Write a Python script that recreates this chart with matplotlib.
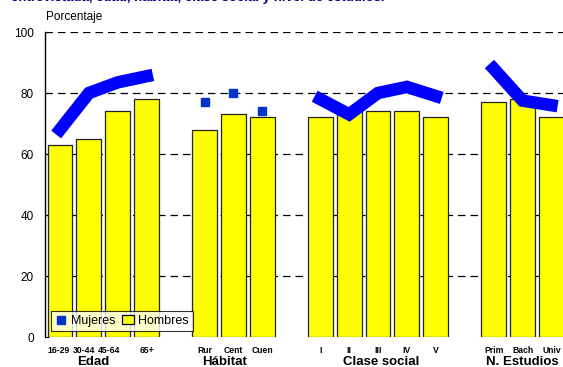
import matplotlib.pyplot as plt
import numpy as np
from matplotlib.lines import Line2D
from matplotlib.patches import Patch

plt.rcParams['font.family'] = ['Liberation Sans', 'DejaVu Sans']

# Data
categorias = ['16-29', '30-44', '45-64', '65+',
              'Rur', 'Cent', 'Cuen',
              'I', 'II', 'III', 'IV', 'V',
              'Prim', 'Bach', 'Univ']
grupos = ['Edad', 'Hábitat', 'Clase social', 'N. Estudios']
tamano_grupo = [4, 3, 5, 3]

hombres = [63, 65, 74, 78,
           68, 73, 72,
           72, 75, 74, 74, 72,
           77, 78, 72]
mujeres = [68, 80, 83.5, 85.5,
           77, 80, 74,
           78, 73, 80, 82, 79,
           88, 77.5, 76]
# Hábitat only shows the markers, the rest have the thick line
con_linea = [True, False, True, True]

# Bar positions: one empty slot between groups
x = []
start = 0
for n in tamano_grupo:
    x.extend(range(start, start + n))
    start += n + 1
x = np.array(x, dtype=float)

# Edad labels are squeezed together in the original
label_shift = [-0.05, -0.18, -0.32, 0.0,
               0, 0, 0,
               0, 0, 0, 0, 0,
               0, 0, 0]
grupo_x = [1.15, 5.7, 11.1, 16.0]

fig = plt.figure(figsize=(5.63, 3.67), dpi=100)
ax = fig.add_axes([0.0799, 0.0817, 0.9201, 0.8311])

ax.bar(x, hombres, width=0.86, color='#ffff00', edgecolor='#222222',
       linewidth=0.9, zorder=2, label='Hombres')

# Mujeres: thick line per group, square markers where there is no line
idx = 0
for n, linea in zip(tamano_grupo, con_linea):
    xs = x[idx:idx + n]
    ys = mujeres[idx:idx + n]
    if linea:
        ax.plot(xs, ys, color='#0000ff', linewidth=9, solid_capstyle='projecting',
                solid_joinstyle='miter', zorder=3)
    else:
        ax.plot(xs, ys, linestyle='none', marker='s', markersize=6,
                color='#0033cc', zorder=3)
    idx += n

ax.set_xlim(-0.52, 17.4)
ax.set_ylim(0, 100)
ax.set_yticks([0, 20, 40, 60, 80, 100])
ax.tick_params(axis='y', direction='in', length=3, labelsize=8.5, pad=8)
ax.set_xticks([])
for y in [20, 40, 60, 80, 100]:
    ax.axhline(y, color='black', linestyle=(0, (6, 4)), linewidth=0.9, zorder=1)

for s in ['top', 'right', 'bottom']:
    ax.spines[s].set_visible(False)
ax.spines['left'].set_linewidth(1.0)

# Category and group labels
for xi, dx, lab in zip(x, label_shift, categorias):
    ax.text(xi + dx, -0.031, lab, transform=ax.get_xaxis_transform(),
            ha='center', va='top', fontsize=6.2, fontweight='bold')
for gx, g in zip(grupo_x, grupos):
    ax.text(gx, -0.063, g, transform=ax.get_xaxis_transform(),
            ha='center', va='top', fontsize=9.5, fontweight='bold')

ax.text(0.002, 1.028, 'Porcentaje', transform=ax.transAxes, ha='left',
        va='bottom', fontsize=8.5)
fig.text(0.019, 1.022, 'entrevistada, edad, hábitat, clase social y nivel de estudios.',
         ha='left', va='top', fontsize=9.5, fontweight='bold', color='#000080')

# Legend
handles = [Line2D([], [], linestyle='none', marker='s', markersize=6,
                  color='#0033cc'),
           Patch(facecolor='#ffff00', edgecolor='black', linewidth=0.9)]
leg = ax.legend(handles, ['Mujeres', 'Hombres'], loc='lower left',
                bbox_to_anchor=(0.012, 0.02), ncol=2, fontsize=9,
                frameon=True, fancybox=False, edgecolor='black',
                handlelength=1.0, handletextpad=0.3, columnspacing=0.5,
                borderpad=0.3, borderaxespad=0)
leg.get_frame().set_linewidth(0.8)
leg.set_zorder(5)

fig.savefig('out.png', dpi=100)
